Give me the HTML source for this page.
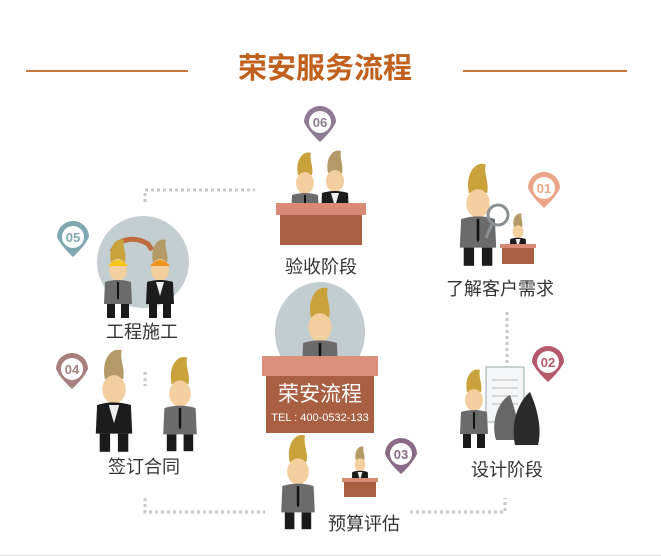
<!DOCTYPE html>
<html><head><meta charset="utf-8"><style>
html,body{margin:0;padding:0;background:#fff;width:661px;height:556px;overflow:hidden}
svg{display:block}
text{font-family:"Liberation Sans","Noto Sans CJK SC",sans-serif}
</style></head><body>
<svg width="661" height="556" viewBox="0 0 661 556" xmlns="http://www.w3.org/2000/svg">
<defs>
<g id="man">
 <path d="M-7,-30 C-10,-45 -2,-55 6,-52 C4,-45 9,-38 7,-30 Z" fill="#c9a23c"/>
 <ellipse cx="0" cy="-22" rx="9" ry="11" fill="#f3cfa0"/>
 <path d="M-13,-10 Q0,-14 13,-10 L14,12 L-14,12 Z" fill="#6b6b6b"/>
 <rect x="-11" y="12" width="8" height="14" fill="#1a1a1a"/>
 <rect x="3" y="12" width="8" height="14" fill="#1a1a1a"/>
 <path d="M-1,-10 L1,-10 L1,6 L0,8 L-1,6Z" fill="#111"/>
</g>
<g id="suit">
 <path d="M-7,-30 C-10,-45 -2,-55 6,-52 C4,-45 9,-38 7,-30 Z" fill="#b39a66"/>
 <ellipse cx="0" cy="-22" rx="9" ry="11" fill="#f3cfa0"/>
 <path d="M-13,-10 Q0,-14 13,-10 L14,12 L-14,12 Z" fill="#1c1c1c"/>
 <path d="M-4,-10 L4,-10 L0,4Z" fill="#eee"/>
 <rect x="-11" y="12" width="8" height="14" fill="#1a1a1a"/>
 <rect x="3" y="12" width="8" height="14" fill="#1a1a1a"/>
</g>
<path id="pin" d="M-16,0 A16,16 0 1,1 16,0 Q12,9 0,20 Q-12,9 -16,0Z"/>
</defs>

<line x1="26" y1="71" x2="188" y2="71" stroke="#c9763e" stroke-width="2"/>
<line x1="463" y1="71" x2="627" y2="71" stroke="#c9763e" stroke-width="2"/>
<text x="325" y="78" text-anchor="middle" font-size="29" font-weight="bold" fill="#c0601c">荣安服务流程</text>

<g stroke="#c8c8c8" stroke-width="3" stroke-dasharray="3,3" fill="none">
 <path d="M145,202 V190 H255"/>
 <path d="M145,372 V386"/>
 <path d="M507,312 V378"/>
 <path d="M145,498 V512 H265"/>
 <path d="M410,512 H505 V498"/>
</g>

<g transform="translate(305,205)"><use href="#man"/></g>
<g transform="translate(335,203)"><use href="#suit"/></g>
<rect x="276" y="203" width="90" height="12" fill="#d98a75"/>
<rect x="280" y="215" width="82" height="30" fill="#a85f42"/>
<text x="321" y="273" text-anchor="middle" font-size="18" fill="#333">验收阶段</text>

<g transform="translate(478,232) scale(1.3)"><use href="#man"/></g>
<circle cx="498" cy="215" r="10" fill="none" stroke="#8a8f93" stroke-width="3"/>
<line x1="492" y1="224" x2="486" y2="238" stroke="#8a8f93" stroke-width="3"/>
<g transform="translate(518,245) scale(0.6)"><use href="#suit"/></g>
<rect x="500" y="244" width="36" height="4" fill="#d98a75"/>
<rect x="502" y="248" width="32" height="16" fill="#a85f42"/>
<text x="500" y="295" text-anchor="middle" font-size="18" fill="#333">了解客户需求</text>

<circle cx="143" cy="262" r="46" fill="#c3ced0"/>
<path d="M112,252 C118,238 135,236 148,244 L152,250" fill="none" stroke="#c06a40" stroke-width="5"/>
<g transform="translate(118,292)"><use href="#man"/></g>
<path d="M108,266 Q118,254 128,266Z" fill="#f5c518"/>
<g transform="translate(160,292)"><use href="#suit"/></g>
<path d="M150,266 Q160,254 170,266Z" fill="#f0921e"/>
<text x="142" y="338" text-anchor="middle" font-size="18" fill="#333">工程施工</text>

<g transform="translate(114,418) scale(1.3)"><use href="#suit"/></g>
<g transform="translate(180,420) scale(1.2)"><use href="#man"/></g>
<text x="144" y="473" text-anchor="middle" font-size="18" fill="#333">签订合同</text>

<ellipse cx="320" cy="332" rx="45" ry="50" fill="#c2cdcf"/>
<g transform="translate(320,356) scale(1.3)"><use href="#man"/></g>
<rect x="262" y="356" width="116" height="20" fill="#db907a"/>
<rect x="266" y="376" width="108" height="57" fill="#a85f42"/>
<text x="320" y="401" text-anchor="middle" font-size="21" fill="#fff">荣安流程</text>
<text x="320" y="421" text-anchor="middle" font-size="11" fill="#fff">TEL : 400-0532-133</text>

<rect x="486" y="367" width="38" height="55" fill="#f4f6f7" stroke="#9aa" stroke-width="1"/>
<g stroke="#bbb" stroke-width="1"><line x1="492" y1="380" x2="518" y2="380"/><line x1="492" y1="388" x2="518" y2="388"/><line x1="492" y1="396" x2="518" y2="396"/><line x1="492" y1="404" x2="518" y2="404"/></g>
<g transform="translate(474,422)"><use href="#man"/></g>
<path d="M496,440 C490,420 500,400 510,395 C515,410 520,425 518,440Z" fill="#666"/>
<path d="M515,445 C510,420 520,400 530,392 C538,410 542,430 538,445Z" fill="#2a2a2a"/>
<text x="507" y="476" text-anchor="middle" font-size="18" fill="#333">设计阶段</text>

<g transform="translate(298,498) scale(1.2)"><use href="#man"/></g>
<g transform="translate(360,478) scale(0.6)"><use href="#suit"/></g>
<rect x="342" y="478" width="36" height="4" fill="#d98a75"/>
<rect x="344" y="482" width="32" height="15" fill="#a85f42"/>
<text x="364" y="530" text-anchor="middle" font-size="18" fill="#333">预算评估</text>

<g font-size="13" font-weight="bold" text-anchor="middle">
<g transform="translate(320,122)"><use href="#pin" fill="#8f7a93"/><circle r="11" fill="#fff"/><text y="5" fill="#8f7a93">06</text></g>
<g transform="translate(544,188)"><use href="#pin" fill="#eaa487"/><circle r="11" fill="#fff"/><text y="5" fill="#eaa487">01</text></g>
<g transform="translate(73,237)"><use href="#pin" fill="#7fa8b0"/><circle r="11" fill="#fff"/><text y="5" fill="#7fa8b0">05</text></g>
<g transform="translate(72,369)"><use href="#pin" fill="#a88080"/><circle r="11" fill="#fff"/><text y="5" fill="#a88080">04</text></g>
<g transform="translate(548,362)"><use href="#pin" fill="#b55a6a"/><circle r="11" fill="#fff"/><text y="5" fill="#b55a6a">02</text></g>
<g transform="translate(401,454)"><use href="#pin" fill="#8a6a86"/><circle r="11" fill="#fff"/><text y="5" fill="#8a6a86">03</text></g>
</g>
<rect x="0" y="554" width="661" height="2" fill="#eee"/>
</svg>
</body></html>
